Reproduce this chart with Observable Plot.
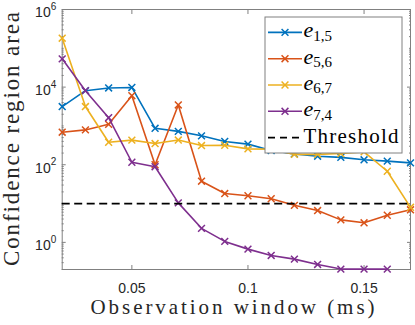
<!DOCTYPE html>
<html>
<head>
<meta charset="utf-8">
<script src="https://cdn.jsdelivr.net/npm/d3@7"></script>
<script src="https://cdn.jsdelivr.net/npm/@observablehq/plot@0.6"></script>
<style>
  html, body { margin: 0; padding: 0; background: white; overflow: hidden; }
  #chart svg { display: block; }
</style>
</head>
<body>
<div id="chart"></div>
<script>
// Observation window (ms)
const windows = [0.02, 0.03, 0.04, 0.05, 0.06, 0.07, 0.08, 0.09, 0.10, 0.11, 0.12, 0.13, 0.14, 0.15, 0.16, 0.17];
// Confidence region area per edge
const e15 = [3160, 8100, 9500, 9800, 870, 725, 556, 398, 340, 232, 190, 166, 155, 134, 124, 112];
const e56 = [690, 790, 1100, 6000, 100, 3470, 37.6, 18.1, 15.9, 13.3, 9.0, 6.6, 3.8, 3.2, 5.0, 6.9];
const e67 = [182000, 3160, 380, 430, 352, 433, 313, 318, 257, 250, 185, 185, 195, 215, 68, 8.0];
const e74 = [53600, 8100, 1630, 116, 89, 10.4, 2.3, 1.06, 0.67, 0.46, 0.37, 0.27, 0.205, 0.205, 0.205];
const threshold = 10;

const seriesNames = ["1,5", "5,6", "6,7", "7,4"];
const seriesColors = ["#0072BD", "#D95319", "#EDB120", "#7E2F8E"];
const seriesValues = [e15, e56, e67, e74];

// ticks
const xTicks = [0.05, 0.1, 0.15];
const xTickLabels = ["0.05", "0.1", "0.15"];
const yMajor = [1, 100, 1e4, 1e6];
const yExpLabels = ["0", "2", "4", "6"];
const yMinor = [];
for (let k = -1; k <= 5; k++) for (let m = 1; m <= 9; m++) {
  const v = m * Math.pow(10, k);
  if (v >= 0.2 && v <= 1e6 && !yMajor.includes(v)) yMinor.push(v);
}

const rowsOf = vals => vals.map((v, i) => ({x: windows[i], y: v}));
const axisGray = "#808080";

const seriesMarks = seriesValues.flatMap((vals, i) => [
  Plot.line(rowsOf(vals), {x: "x", y: "y", stroke: seriesColors[i], strokeWidth: 1.6}),
  Plot.dot(rowsOf(vals), {x: "x", y: "y", stroke: seriesColors[i], symbol: "times", r: 3.2, strokeWidth: 1.5})
]);

const chart = Plot.plot({
  width: 415,
  height: 325,
  marginLeft: 61.7,
  marginRight: 5,
  marginTop: 9,
  marginBottom: 56,
  style: {fontFamily: "'Liberation Sans', Arial, sans-serif", background: "white", overflow: "visible"},
  x: {domain: [0.02, 0.17], label: null},
  y: {type: "log", domain: [0.2, 1e6], label: null},
  marks: [
    // inward ticks on all four sides
    Plot.axisX({anchor: "bottom", ticks: xTicks, tickSize: 4, dy: -4, tickFormat: () => "", stroke: axisGray, label: null}),
    Plot.axisX({anchor: "top", ticks: xTicks, tickSize: 4, dy: 4, tickFormat: () => "", stroke: axisGray, label: null}),
    Plot.axisY({anchor: "left", ticks: yMajor, tickSize: 4, dx: 4, tickFormat: () => "", stroke: axisGray, label: null}),
    Plot.axisY({anchor: "right", ticks: yMajor, tickSize: 4, dx: -4, tickFormat: () => "", stroke: axisGray, label: null}),
    Plot.axisY({anchor: "left", ticks: yMinor, tickSize: 2, dx: 2, tickFormat: () => "", stroke: axisGray, label: null}),
    Plot.axisY({anchor: "right", ticks: yMinor, tickSize: 2, dx: -2, tickFormat: () => "", stroke: axisGray, label: null}),
    // tick labels
    Plot.text(xTicks, {x: d => d, text: (d, i) => xTickLabels[i], frameAnchor: "bottom", lineAnchor: "middle", dy: 19, fontSize: 14, fill: "#262626"}),
    Plot.text(yMajor, {y: d => d, text: () => "10", frameAnchor: "left", textAnchor: "end", lineAnchor: "middle", dx: -11.5, dy: 3.5, fontSize: 14, fill: "#262626"}),
    Plot.text(yMajor, {y: d => d, text: (d, i) => yExpLabels[i], frameAnchor: "left", textAnchor: "start", lineAnchor: "middle", dx: -11.5, dy: -2.5, fontSize: 10, fill: "#262626"}),
    Plot.frame({stroke: axisGray, strokeWidth: 1}),
    ...seriesMarks,
    Plot.ruleY([threshold], {stroke: "black", strokeWidth: 1.7, strokeDasharray: "8,4.5"})
  ]
});

document.getElementById("chart").appendChild(chart);

// axis titles and legend
const svg = d3.select(chart);
const serif = "'Liberation Serif', 'Times New Roman', serif";

svg.append("text")
  .attr("transform", "translate(18.5,139) rotate(-90)")
  .attr("text-anchor", "middle")
  .attr("font-family", serif).attr("font-size", 23).attr("fill", "#262626")
  .attr("textLength", 254).attr("lengthAdjust", "spacing")
  .text("Confidence region area");

svg.append("text")
  .attr("x", 232.5).attr("y", 314)
  .attr("text-anchor", "middle")
  .attr("font-family", serif).attr("font-size", 21).attr("fill", "#262626")
  .attr("textLength", 284).attr("lengthAdjust", "spacing")
  .text("Observation window (ms)");

const lg = svg.append("g").attr("text-anchor", "start");
lg.append("rect").attr("x", 265).attr("y", 17).attr("width", 137).attr("height", 136)
  .attr("fill", "white").attr("stroke", axisGray).attr("stroke-width", 1);

const rowY = i => 32.4 + i * 26.3;
seriesNames.forEach((name, i) => {
  const ly = rowY(i);
  lg.append("line").attr("x1", 268).attr("x2", 302).attr("y1", ly).attr("y2", ly)
    .attr("stroke", seriesColors[i]).attr("stroke-width", 1.6);
  lg.append("path").attr("d", d3.symbol(d3.symbolTimes, Math.PI * 3.2 * 3.2)())
    .attr("transform", `translate(285,${ly})`)
    .attr("fill", "none").attr("stroke", seriesColors[i]).attr("stroke-width", 1.5);
  const t = lg.append("text").attr("x", 303.5).attr("y", ly + 5)
    .attr("text-anchor", "start")
    .attr("font-family", serif).attr("font-size", 22).attr("fill", "#000");
  t.append("tspan").attr("font-style", "italic").text("e");
  t.append("tspan").attr("font-size", 15).attr("dy", 3.4).text(name);
});
{
  const ly = rowY(4);
  lg.append("line").attr("x1", 268).attr("x2", 302).attr("y1", ly).attr("y2", ly)
    .attr("stroke", "black").attr("stroke-width", 1.7).attr("stroke-dasharray", "7,5");
  lg.append("text").attr("x", 303.5).attr("y", ly + 5.4)
    .attr("text-anchor", "start")
    .attr("font-family", serif).attr("font-size", 21).attr("fill", "#000")
    .attr("textLength", 95).attr("lengthAdjust", "spacing")
    .text("Threshold");
}
</script>
</body>
</html>
